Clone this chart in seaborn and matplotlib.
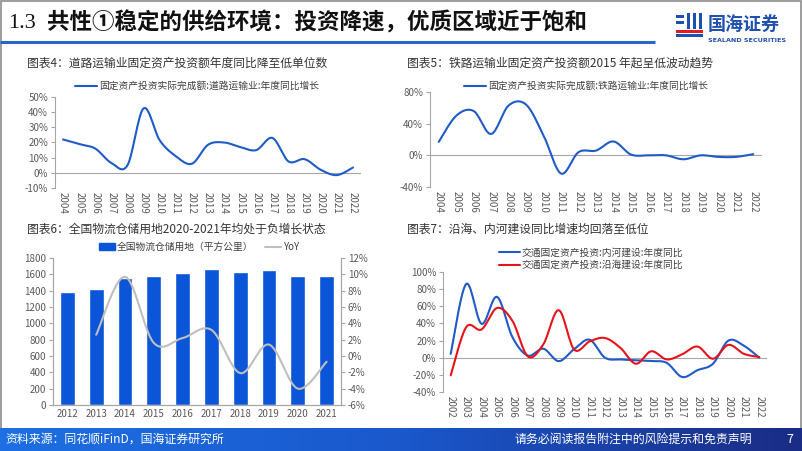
import numpy as np
import pandas as pd
import matplotlib
matplotlib.use("Agg")
import matplotlib.pyplot as plt
import seaborn as sns
from matplotlib.patches import Rectangle, Patch
from matplotlib.lines import Line2D
from matplotlib.colors import LinearSegmentedColormap

sns.set_theme(style="ticks")
plt.rcParams['font.family'] = ['Noto Sans CJK SC', 'DejaVu Sans']
plt.rcParams['axes.unicode_minus'] = False

# ---- data ----
road_years = list(range(2004, 2023))
road_yoy = [22, 19, 16, 6.5, 5, 42.5, 21.5, 11, 6, 18.5, 20, 17, 15, 23, 7.5, 9, 2, -1.5, 3.5]

rail_years = list(range(2004, 2023))
rail_yoy = [17, 50, 56, 27, 63, 64, 25, -23, 4, 6, 17.5, 1, 0, 0, -5, 0, -2, -2, 1.5]

storage_years = list(range(2012, 2022))
storage_area = [1380, 1415, 1550, 1585, 1615, 1665, 1630, 1650, 1585, 1575]
storage_yoy = [np.nan, 2.6, 9.7, 1.6, 2.2, 3.2, -2.1, 1.4, -4.0, -0.7]

port_years = list(range(2002, 2023))
inland_yoy = [4.5, 86, 39.5, 71, 24, 2.5, 10.5, -4, 10, 21, 0, -2, -3, -4, -6, -22.5, -14.5, -7, 20, 14, 0]
coastal_yoy = [-20.5, 35.5, 33, 58, 43, 1.5, 15.5, 55.5, 9.5, 19, 23, 11.5, -7, 7.5, -2, 4, 13, -1.2, 15, 4.5, 0.8]

TICK = '#595959'
AXC = '#a6a6a6'
BLUE = '#1f5bc8'
RED = '#e5141b'
W, H = 802, 451


def smooth(x, y, n=16):
    # Excel-style smoothed line (Catmull-Rom through the data points)
    x = np.asarray(x, float)
    y = np.asarray(y, float)
    px = np.concatenate([[x[0]], x, [x[-1]]])
    py = np.concatenate([[y[0]], y, [y[-1]]])
    t = np.linspace(0, 1, n, endpoint=False)
    xs, ys = [], []
    for i in range(1, len(px) - 2):
        for p, out in ((px, xs), (py, ys)):
            p0, p1, p2, p3 = p[i - 1], p[i], p[i + 1], p[i + 2]
            out.extend(0.5 * (2 * p1 + (-p0 + p2) * t + (2 * p0 - 5 * p1 + 4 * p2 - p3) * t ** 2
                              + (-p0 + 3 * p1 - 3 * p2 + p3) * t ** 3))
    xs.append(x[-1])
    ys.append(y[-1])
    return np.array(xs), np.array(ys)


def px_rect(l, t, r, b):
    return [l / W, 1 - b / H, (r - l) / W, (b - t) / H]


def style_line_axes(ax, years, ylim, step):
    ax.set_xlim(-0.5, len(years) - 0.5)
    ax.set_ylim(*ylim)
    ax.set_yticks(np.arange(ylim[0], ylim[1] + 0.1, step))
    ax.yaxis.set_major_formatter(lambda v, p: f"{v:.0f}%")
    ax.set_xticks(range(len(years)))
    ax.set_xticklabels([str(y) for y in years], rotation=-90)
    for s in ['top', 'right', 'bottom']:
        ax.spines[s].set_visible(False)
    ax.spines['left'].set_color(AXC)
    ax.spines['left'].set_linewidth(0.8)
    ax.tick_params(axis='y', length=3, width=0.8, color=AXC, labelsize=7, labelcolor=TICK, pad=2)
    ax.tick_params(axis='x', length=0, labelsize=7, labelcolor=TICK, pad=3)
    ax.axhline(0, color=AXC, lw=0.8, zorder=1)
    ax.set_xlabel('')
    ax.set_ylabel('')


fig = plt.figure(figsize=(W / 100, H / 100), dpi=100)
fig.patch.set_facecolor('white')

# ---- chart 4: road ----
ax4 = fig.add_axes(px_rect(55, 97, 361, 188))
xs, ys = smooth(range(len(road_years)), road_yoy)
sns.lineplot(x=xs, y=ys, ax=ax4, sort=False, estimator=None, color=BLUE, lw=1.5)
style_line_axes(ax4, road_years, (-10, 50), 10)
ax4.legend(handles=[Line2D([], [], color=BLUE, lw=1.5)],
           labels=['固定资产投资实际完成额:道路运输业:年度同比增长'],
           loc='center', bbox_to_anchor=(197 / W, 1 - 86 / H), bbox_transform=fig.transFigure,
           frameon=False, fontsize=7, handlelength=2.2, handletextpad=0.2, labelcolor='#404040')

# ---- chart 5: rail ----
ax5 = fig.add_axes(px_rect(430, 92, 762, 187))
xs, ys = smooth(range(len(rail_years)), rail_yoy)
sns.lineplot(x=xs, y=ys, ax=ax5, sort=False, estimator=None, color=BLUE, lw=1.5)
style_line_axes(ax5, rail_years, (-40, 80), 40)
ax5.legend(handles=[Line2D([], [], color=BLUE, lw=1.5)],
           labels=['固定资产投资实际完成额:铁路运输业:年度同比增长'],
           loc='center', bbox_to_anchor=(586 / W, 1 - 86 / H), bbox_transform=fig.transFigure,
           frameon=False, fontsize=7, handlelength=2.2, handletextpad=0.2, labelcolor='#404040')

# ---- chart 6: storage land ----
ax6 = fig.add_axes(px_rect(53, 258, 341, 405))
df6 = pd.DataFrame({'year': [str(y) for y in storage_years], 'area': storage_area})
sns.barplot(data=df6, x='year', y='area', ax=ax6, color='#0a55d8', width=0.52, saturation=1)
ax6.set_xlim(-0.5, len(storage_years) - 0.5)
ax6.set_ylim(0, 1800)
ax6.set_yticks(range(0, 1801, 200))
ax6.set_xlabel('')
ax6.set_ylabel('')
ax6r = ax6.twinx()
valid = ~np.isnan(storage_yoy)
idx = np.arange(len(storage_years))[valid]
xs, ys = smooth(idx, np.array(storage_yoy)[valid])
sns.lineplot(x=xs, y=ys, ax=ax6r, sort=False, estimator=None, color='#bfbfbf', lw=1.5)
ax6r.set_ylim(-6, 12)
ax6r.set_yticks(range(-6, 13, 2))
ax6r.yaxis.set_major_formatter(lambda v, p: f"{v:.0f}%")
ax6r.set_ylabel('')
for a in (ax6, ax6r):
    a.spines['top'].set_visible(False)
    for s in ['left', 'right', 'bottom']:
        a.spines[s].set_color(AXC)
        a.spines[s].set_linewidth(0.8)
    a.tick_params(length=3, width=0.8, color=AXC, labelsize=7, labelcolor=TICK, pad=2)
ax6.tick_params(axis='x', length=0, pad=3)
ax6r.legend(handles=[Patch(color='#0a55d8'), Line2D([], [], color='#bfbfbf', lw=1.5)],
            labels=['全国物流仓储用地（平方公里）', 'YoY'], ncol=2,
            loc='center', bbox_to_anchor=(199 / W, 1 - 247 / H), bbox_transform=fig.transFigure,
            frameon=False, fontsize=7, handlelength=1.6, handleheight=0.6, handletextpad=0.2,
            columnspacing=1.2, labelcolor='#404040')

# ---- chart 7: ports ----
ax7 = fig.add_axes(px_rect(443, 272, 767, 392))
xs, ys = smooth(range(len(port_years)), inland_yoy)
sns.lineplot(x=xs, y=ys, ax=ax7, sort=False, estimator=None, color=BLUE, lw=1.5)
xs, ys = smooth(range(len(port_years)), coastal_yoy)
sns.lineplot(x=xs, y=ys, ax=ax7, sort=False, estimator=None, color=RED, lw=1.5)
style_line_axes(ax7, port_years, (-40, 100), 20)
ax7.legend(handles=[Line2D([], [], color=BLUE, lw=1.5), Line2D([], [], color=RED, lw=1.5)],
           labels=['交通固定资产投资:内河建设:年度同比', '交通固定资产投资:沿海建设:年度同比'],
           loc='center', bbox_to_anchor=(591 / W, 1 - 259 / H), bbox_transform=fig.transFigure,
           frameon=False, fontsize=7, handlelength=2.2, handletextpad=0.2, labelspacing=0.25,
           labelcolor='#404040')

# ---- chart titles ----
for x, y, s in [(27, 63, '图表4：道路运输业固定资产投资额年度同比降至低单位数'),
                (407, 63, '图表5：铁路运输业固定资产投资额2015 年起呈低波动趋势'),
                (27, 229, '图表6：全国物流仓储用地2020-2021年均处于负增长状态'),
                (407, 229, '图表7：沿海、内河建设同比增速均回落至低位')]:
    fig.text(x / W, 1 - y / H, s, fontsize=8.5, color='#333333', ha='left', va='center')

# ---- slide decoration (pixel overlay) ----
ov = fig.add_axes([0, 0, 1, 1], zorder=-1)
ov.set_xlim(0, W)
ov.set_ylim(H, 0)
ov.axis('off')
ov.add_patch(Rectangle((0.5, 0.5), W - 1.5, 428, fill=False, ec='#8c8c8c', lw=1.2))
ov.plot([0, 655], [42, 42], color='#2a66c6', lw=2.2, solid_capstyle='butt')

fig.text(8 / W, 1 - 23 / H, '1.3', fontsize=16, family=['Liberation Serif'], color='#111111',
         ha='left', va='center')
fig.text(47 / W, 1 - 23 / H, '共性①稳定的供给环境：投资降速，优质区域近于饱和', fontsize=16.2,
         fontweight='bold', color='#111111', ha='left', va='center')

# logo
lg = fig.add_axes([0, 0, 1, 1], zorder=5)
lg.set_xlim(0, W)
lg.set_ylim(H, 0)
lg.axis('off')
for (l, t, w, h, c) in [(676, 15, 8, 3, '#1f4fb0'), (676, 21, 8, 3, '#1f4fb0'),
                        (687, 13, 3, 16, '#1f4fb0'), (693, 13, 3, 16, '#1f4fb0'),
                        (699, 13, 3, 16, '#1f4fb0'), (676, 30, 27, 3, '#e21b23'),
                        (676, 34, 27, 3, '#1f4fb0')]:
    lg.add_patch(Rectangle((l, t), w, h, color=c, lw=0))
fig.text(708 / W, 1 - 24 / H, '国海证券', fontsize=13, fontweight='bold', color='#1f4fb0',
         ha='left', va='center')
fig.text(708 / W, 1 - 41 / H, 'SEALAND SECURITIES', fontsize=4.6, fontweight='bold',
         color='#1f4fb0', ha='left', va='center', family=['DejaVu Sans'])

# footer gradient bar
ft = fig.add_axes([0, 0, 1, 23 / H], zorder=4)
cmap = LinearSegmentedColormap.from_list('foot', ['#1d6fe3', '#1a58cc', '#1a2c84'])
ft.imshow(np.linspace(0, 1, 256)[None, :], aspect='auto', cmap=cmap, extent=(0, 1, 0, 1))
ft.axis('off')
fig.text(5 / W, 11.5 / H, '资料来源：同花顺iFinD，国海证券研究所', fontsize=8.6, color='white',
         ha='left', va='center', zorder=6)
fig.text(752 / W, 11.5 / H, '请务必阅读报告附注中的风险提示和免责声明', fontsize=8.6, color='white',
         ha='right', va='center', zorder=6)
fig.text(790 / W, 11.5 / H, '7', fontsize=9, color='white', ha='center', va='center', zorder=6)

fig.savefig('out.png', dpi=100)
